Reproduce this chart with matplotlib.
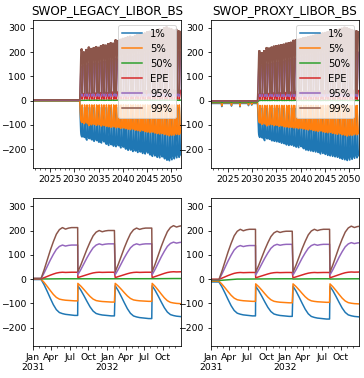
import pandas as pd
import matplotlib
matplotlib.use("Agg")
import matplotlib.pyplot as plt
import matplotlib.dates as mdates
from matplotlib.ticker import FuncFormatter


OUTPUT_PATH = "out.png"

SERIES = ["1%", "5%", "50%", "EPE", "95%", "99%"]
TITLES = ["SWOP_LEGACY_LIBOR_BS", "SWOP_PROXY_LIBOR_BS"]

START = "2021-07-01"
END = "2051-12-31"
ZOOM_START = "2031-01-01"
ZOOM_END = "2032-12-31"
RESET_YEARS = list(range(2031, 2052))
RESET_MONTHS = [2, 8]

# days after a reset and how far each line has moved toward its cycle extreme
cycle_days = [0, 15, 30, 45, 60, 75, 90, 105, 120, 135, 150, 165, 180]
ramp_up = [0.0, 0.17, 0.36, 0.55, 0.72, 0.87, 0.96, 1.0, 0.97, 0.99, 1.0, 1.0, 1.0]
ramp_down = [0.0, 0.15, 0.33, 0.52, 0.70, 0.84, 0.92, 0.95, 0.97, 0.98, 0.99, 1.0, 1.0]

# level before the first reset (1%, 5%, 50%, EPE, 95%, 99%)
legacy_pre = [-2, -1, 0, 1, 2, 3]
proxy_pre = [-12, -9, -6, -1, -3, -2]
proxy_dip_months = ["2023-10-01", "2025-10-01", "2027-07-01", "2029-04-01", "2029-12-01"]
proxy_dip_1pct = [-25, -23, -26, -21, -19]
proxy_dip_5pct = [-22, -20, -23, -18, -16]
proxy_dip_50pct = [-9, -8, -9, -8, -7]

# level right after each later reset
legacy_reset = [-28, -18, 1, 6, 18, 30]
proxy_reset = [-30, -20, 0, 5, 17, 28]

# cycle extremes, two cycles a year from Feb 2031 to Aug 2051
legacy_1pct = [-150, -152, -163, -157, -162, -168, -165, -172, -175, -170,
               -180, -185, -182, -188, -190, -186, -195, -192, -200, -205,
               -204, -210, -208, -214, -212, -218, -220, -216, -224, -230,
               -228, -234, -236, -232, -240, -246, -248, -244, -240, -236,
               -234, -230]
legacy_5pct = [-90, -95, -92, -103, -100, -98, -102, -100, -105, -103,
               -106, -108, -110, -108, -112, -110, -115, -113, -116, -118,
               -120, -118, -122, -124, -126, -124, -128, -130, -132, -130,
               -134, -136, -138, -136, -140, -142, -145, -143, -142, -140,
               -140, -138]
legacy_50pct = [1, 1, 1, 2, 1, 2, 2, 1, 2, 2,
                1, 2, 2, 2, 1, 2, 2, 2, 2, 1,
                2, 2, 2, 2, 2, 1, 2, 2, 2, 2,
                2, 2, 2, 1, 2, 2, 2, 2, 2, 2,
                2, 2]
legacy_epe = [28, 28, 28, 30, 30, 31, 31, 32, 32, 33,
              33, 33, 34, 35, 35, 35, 36, 36, 37, 37,
              38, 38, 38, 39, 39, 40, 40, 40, 41, 41,
              42, 42, 42, 43, 43, 44, 44, 43, 43, 42,
              42, 42]
legacy_95pct = [140, 145, 145, 152, 150, 153, 155, 153, 158, 160,
                160, 163, 166, 165, 172, 170, 175, 178, 180, 182,
                184, 182, 186, 189, 190, 188, 193, 196, 198, 196,
                200, 203, 205, 203, 208, 211, 210, 207, 204, 206,
                202, 200]
legacy_99pct = [212, 200, 210, 220, 214, 218, 222, 219, 226, 230,
                228, 234, 238, 236, 250, 247, 252, 256, 258, 262,
                265, 262, 268, 272, 275, 272, 278, 283, 285, 282,
                288, 292, 295, 292, 300, 304, 298, 295, 290, 293,
                287, 285]

proxy_1pct = [-152, -154, -165, -158, -160, -166, -168, -170, -172, -176,
              -178, -183, -185, -184, -188, -192, -194, -190, -198, -204,
              -206, -208, -210, -212, -214, -220, -218, -222, -226, -228,
              -230, -232, -234, -238, -242, -244, -247, -245, -242, -238,
              -236, -232]
proxy_5pct = [-92, -98, -96, -104, -101, -99, -103, -102, -106, -104,
              -108, -109, -111, -110, -113, -112, -116, -114, -117, -119,
              -121, -120, -123, -125, -127, -125, -129, -131, -133, -131,
              -135, -137, -139, -137, -141, -143, -146, -144, -143, -141,
              -141, -139]
proxy_50pct = [0, 1, 1, 1, 1, 1, 2, 1, 1, 2,
               1, 1, 2, 1, 1, 2, 1, 2, 1, 1,
               2, 1, 2, 1, 2, 1, 1, 2, 1, 2,
               1, 2, 1, 1, 2, 1, 2, 1, 1, 2,
               1, 1]
proxy_epe = [27, 27, 27, 29, 29, 30, 31, 31, 32, 32,
             33, 33, 34, 34, 35, 35, 36, 36, 36, 37,
             37, 38, 38, 39, 39, 39, 40, 40, 41, 41,
             41, 42, 42, 43, 43, 43, 44, 43, 42, 42,
             41, 41]
proxy_95pct = [138, 143, 143, 150, 149, 152, 154, 155, 157, 159,
               161, 164, 166, 167, 171, 173, 176, 177, 180, 181,
               183, 185, 187, 188, 190, 191, 194, 195, 197, 198,
               200, 202, 204, 205, 207, 210, 209, 206, 204, 203,
               201, 199]
proxy_99pct = [205, 197, 205, 218, 216, 220, 224, 226, 228, 230,
               232, 236, 238, 240, 248, 250, 252, 255, 258, 260,
               263, 265, 268, 270, 272, 275, 278, 280, 283, 285,
               287, 290, 292, 295, 298, 302, 300, 296, 292, 289,
               287, 284]


def build_frame(pre, reset, extremes, dips=None):
    pre_index = pd.date_range(START, "2031-02-01", freq="MS")
    pre_frame = pd.DataFrame([pre] * len(pre_index), index=pre_index, columns=SERIES)
    if dips is not None:
        months, dip_1, dip_5, dip_50 = dips
        for month, v1, v5, v50 in zip(months, dip_1, dip_5, dip_50):
            pre_frame.loc[pd.Timestamp(month), ["1%", "5%", "50%"]] = [v1, v5, v50]

    resets = [pd.Timestamp(year=y, month=m, day=10) for y in RESET_YEARS for m in RESET_MONTHS]
    end = pd.Timestamp(END)
    dates, rows = [], []
    for k, reset_date in enumerate(resets):
        low = pre if k == 0 else reset
        for day, up, down in zip(cycle_days, ramp_up, ramp_down):
            date = reset_date + pd.Timedelta(days=day)
            if date > end:
                break
            row = []
            for i in range(len(SERIES)):
                frac = down if i < 2 else up
                row.append(low[i] + (extremes[i][k] - low[i]) * frac)
            dates.append(date)
            rows.append(row)
    cycle_frame = pd.DataFrame(rows, index=pd.DatetimeIndex(dates), columns=SERIES)
    return pd.concat([pre_frame, cycle_frame])


def quarter_label(x, pos=None):
    date = mdates.num2date(x)
    if date.month == 1:
        return date.strftime("%b\n%Y")
    return date.strftime("%b")


def plot_panels(frames):
    fig, axes = plt.subplots(2, 2, figsize=(364 / 72, 378 / 72), dpi=72)
    fig.subplots_adjust(left=0.0907, right=0.9863, top=0.9471, bottom=0.0847,
                        wspace=0.2, hspace=0.21)

    for col, (title, frame) in enumerate(zip(TITLES, frames)):
        top, bottom = axes[0, col], axes[1, col]
        for ax in (top, bottom):
            for name in SERIES:
                ax.plot(frame.index, frame[name], label=name, linewidth=1.5)
            ax.set_ylim(-276, 332)
            ax.set_yticks([-200, -100, 0, 100, 200, 300])
            ax.tick_params(labelsize=9.3)

        top.set_title(title)
        top.set_xlim(pd.Timestamp(START), pd.Timestamp(END))
        top.xaxis.set_major_locator(mdates.YearLocator(5))
        top.xaxis.set_major_formatter(mdates.DateFormatter("%Y"))
        top.xaxis.set_minor_locator(mdates.YearLocator(1))
        top.legend(loc="upper right")

        bottom.set_xlim(pd.Timestamp(ZOOM_START), pd.Timestamp(ZOOM_END))
        bottom.xaxis.set_major_locator(mdates.MonthLocator(bymonth=[1, 4, 7, 10]))
        bottom.xaxis.set_major_formatter(FuncFormatter(quarter_label))
        bottom.xaxis.set_minor_locator(mdates.MonthLocator())

    fig.savefig(OUTPUT_PATH, dpi=72)
    plt.close(fig)


def main():
    legacy = build_frame(
        legacy_pre,
        legacy_reset,
        [legacy_1pct, legacy_5pct, legacy_50pct, legacy_epe, legacy_95pct, legacy_99pct],
    )
    proxy = build_frame(
        proxy_pre,
        proxy_reset,
        [proxy_1pct, proxy_5pct, proxy_50pct, proxy_epe, proxy_95pct, proxy_99pct],
        dips=(proxy_dip_months, proxy_dip_1pct, proxy_dip_5pct, proxy_dip_50pct),
    )
    plot_panels([legacy, proxy])


if __name__ == "__main__":
    main()
